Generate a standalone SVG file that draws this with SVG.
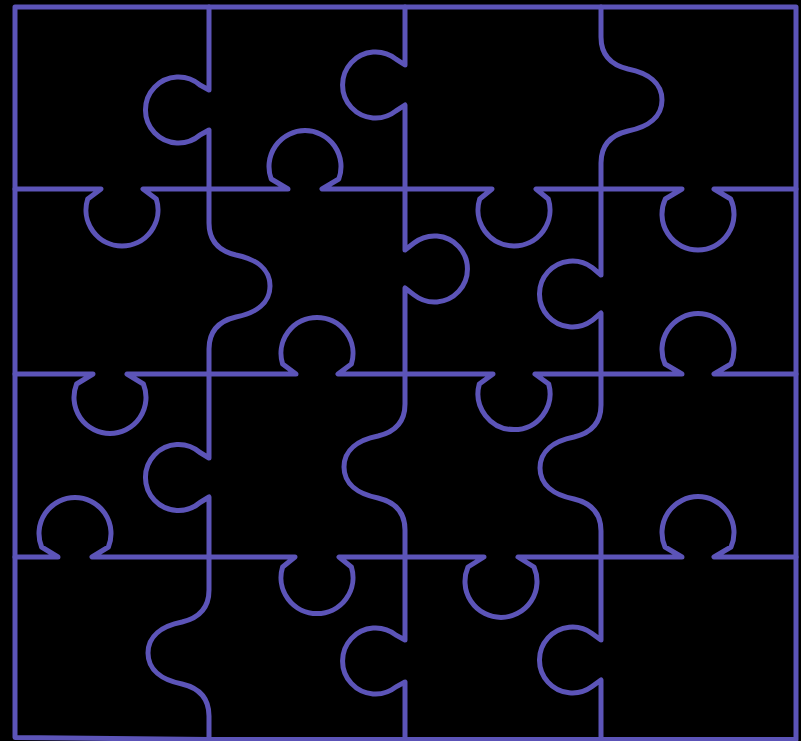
<svg xmlns="http://www.w3.org/2000/svg" width="801" height="741" viewBox="0 0 801 741">
<style>
.cut{fill:none;stroke:#5c54b8;stroke-width:5;stroke-linejoin:round;stroke-linecap:round}
</style>
<rect x="0" y="0" width="801" height="741" fill="#000"/>
<g id="border">
<path class="cut" d="M15,7 L796,7 L796,739.5 L209,739.5 L15,737.5 Z"/>
</g>
<g id="horizontal-cuts">
<path class="cut" d="M15,189 L101,189 L87.7,199 A36 36 0 1 0 156.3,199 L143,189 L288,189 L271.2,179 A36 36 0 1 1 338.8,179 L322,189 L492,189 L479.7,199 A36 36 0 1 0 548.3,199 L536,189 L682,189 L665.3,199 A36 36 0 1 0 730.7,199 L714,189 L796,189"/>
<path class="cut" d="M15,374 L93,374 L76.6,384 A36 36 0 1 0 143.4,384 L127,374 L296,374 L282.6,364 A36 36 0 1 1 351.4,364 L338,374 L493,374 L479.3,384 A36 36 0 1 0 548.7,384 L535,374 L682,374 L665,364 A36 36 0 1 1 731,364 L714,374 L796,374"/>
<path class="cut" d="M15,557 L58,557 L41.6,547 A36 36 0 1 1 108.4,547 L92,557 L295,557 L282.6,567 A36 36 0 1 0 351.4,567 L339,557 L484,557 L468,567 A36 36 0 1 0 534,567 L518,557 L682,557 L665,547 A36 36 0 1 1 731,547 L714,557 L796,557"/>
</g>
<g id="vertical-cuts">
<path class="cut" d="M209,7 L209,90 L200,85 A33 33 0 1 0 200,135 L209,130 L209,223 C209,241 219,251 236,255 C256,259 270,269 270,286 C270,303 256,313 236,317 C219,321 209,331 209,349 L209,458 L200,452.5 A33 33 0 1 0 200,502.5 L209,497 L209,590 C209,608 199,618 182,622 C162,626 148,636 148,653 C148,670 162,680 182,684 C199,688 209,698 209,716 L209,739"/>
<path class="cut" d="M405,7 L405,65 L396,59.1 A33 33 0 1 0 396,110.9 L405,105 L405,250 L414,243.1 A33 33 0 1 1 414,294.9 L405,288 L405,404 C405,422 395,432 378,436 C358,440 344,450 344,467 C344,484 358,494 378,498 C395,502 405,512 405,530 L405,640 L396,635.1 A33 33 0 1 0 396,686.9 L405,682 L405,739"/>
<path class="cut" d="M601,7 L601,37 C601,55 611,65 628,69 C648,73 662,83 662,100 C662,117 648,127 628,131 C611,135 601,145 601,163 L601,275 L592,267.4 A33 33 0 1 0 592,320.6 L601,313 L601,405 C601,423 591,433 574,437 C554,441 540,451 540,468 C540,485 554,495 574,499 C591,503 601,513 601,531 L601,640 L592,633.4 A33 33 0 1 0 592,686.6 L601,680 L601,739"/>
</g>
</svg>
